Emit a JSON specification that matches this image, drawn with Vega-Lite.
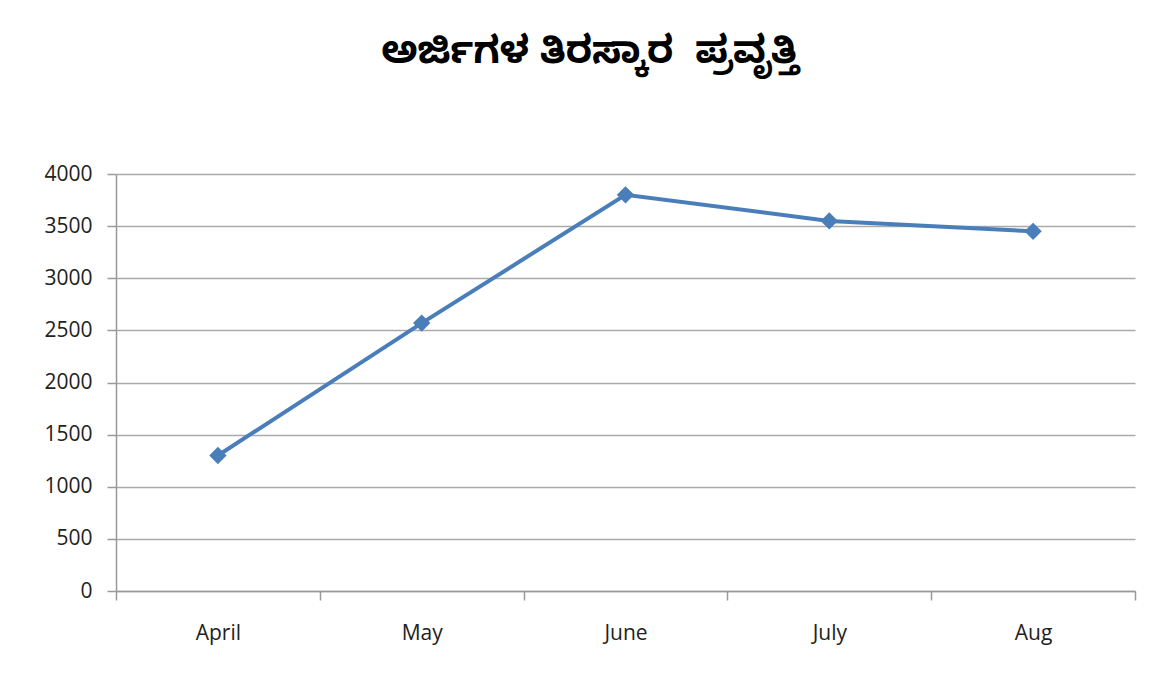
{
  "$schema": "https://vega.github.io/schema/vega-lite/v6.json",
  "width": 1019,
  "height": 417,
  "autosize": {"type": "none"},
  "padding": {"left": 116, "top": 174, "right": 26, "bottom": 83},
  "background": "white",
  "title": {
    "text": "ಅರ್ಜಿಗಳ ತಿರಸ್ಕಾರ \u00a0ಪ್ರವೃತ್ತಿ",
    "font": "Noto Sans Kannada, Noto Sans, sans-serif",
    "fontSize": 38,
    "fontWeight": "bold",
    "color": "#000000",
    "anchor": "middle",
    "frame": "bounds",
    "offset": 92
  },
  "data": {
    "values": [
      {"month": "April", "value": 1300},
      {"month": "May", "value": 2570},
      {"month": "June", "value": 3800},
      {"month": "July", "value": 3550},
      {"month": "Aug", "value": 3450}
    ]
  },
  "config": {
    "view": {"stroke": null},
    "axis": {
      "labelFont": "Open Sans",
      "labelFontSize": 21,
      "labelColor": "#222222",
      "domainColor": "#999999",
      "tickColor": "#999999",
      "gridColor": "#aaaaaa",
      "domainWidth": 1.5,
      "tickWidth": 1.5,
      "gridWidth": 1.3
    }
  },
  "encoding": {
    "x": {
      "field": "month",
      "type": "nominal",
      "sort": null,
      "scale": {"paddingInner": 0, "paddingOuter": 0},
      "axis": {
        "title": null,
        "labelAngle": 0,
        "tickBand": "extent",
        "tickSize": 9,
        "labelPadding": 22,
        "grid": false
      }
    },
    "y": {
      "field": "value",
      "type": "quantitative",
      "scale": {"domain": [0, 4000]},
      "axis": {
        "title": null,
        "format": "d",
        "values": [0, 500, 1000, 1500, 2000, 2500, 3000, 3500, 4000],
        "tickSize": 9,
        "labelPadding": 15,
        "grid": true
      }
    }
  },
  "layer": [
    {
      "mark": {"type": "line", "color": "#4a7ebb", "strokeWidth": 4}
    },
    {
      "mark": {"type": "point", "shape": "diamond", "filled": true, "color": "#4a7ebb", "opacity": 1, "size": 300}
    }
  ]
}
